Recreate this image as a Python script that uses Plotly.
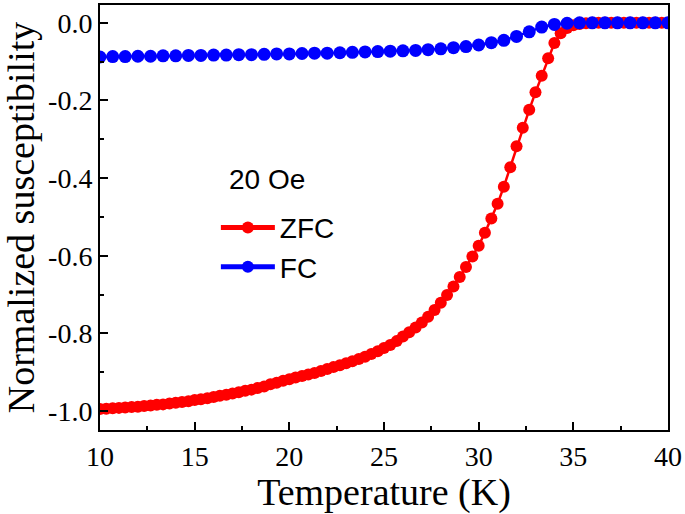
import plotly.graph_objects as go

zfc_temp = [10.00, 10.33, 10.67, 11.00, 11.33, 11.67, 12.00, 12.33, 12.67, 13.00,
            13.33, 13.67, 14.00, 14.33, 14.67, 15.00, 15.33, 15.67, 16.00, 16.33,
            16.67, 17.00, 17.33, 17.67, 18.00, 18.33, 18.67, 19.00, 19.33, 19.67,
            20.00, 20.33, 20.67, 21.00, 21.33, 21.67, 22.00, 22.33, 22.67, 23.00,
            23.33, 23.67, 24.00, 24.33, 24.67, 25.00, 25.33, 25.67, 26.00, 26.33,
            26.67, 27.00, 27.33, 27.67, 28.00, 28.33, 28.67, 29.00, 29.33, 29.67,
            30.00, 30.33, 30.67, 31.00, 31.33, 31.67, 32.00, 32.33, 32.67, 33.00,
            33.33, 33.67, 34.00, 34.33, 34.67, 35.00, 35.33, 35.67, 36.00, 36.33,
            36.67, 37.00, 37.33, 37.67, 38.00, 38.33, 38.67, 39.00, 39.33, 39.67,
            40.00]
zfc_chi = [-0.995, -0.994, -0.993, -0.992, -0.991, -0.990, -0.989, -0.987, -0.986, -0.984,
           -0.983, -0.981, -0.979, -0.977, -0.975, -0.972, -0.970, -0.967, -0.964, -0.961,
           -0.958, -0.955, -0.952, -0.948, -0.945, -0.941, -0.937, -0.931, -0.927, -0.922,
           -0.918, -0.914, -0.910, -0.906, -0.902, -0.897, -0.892, -0.887, -0.882, -0.877,
           -0.872, -0.866, -0.860, -0.853, -0.846, -0.838, -0.830, -0.820, -0.808, -0.797,
           -0.785, -0.772, -0.757, -0.740, -0.721, -0.701, -0.679, -0.655, -0.629, -0.602,
           -0.574, -0.541, -0.504, -0.466, -0.422, -0.372, -0.318, -0.270, -0.224, -0.179,
           -0.136, -0.091, -0.052, -0.027, -0.013, -0.006, -0.003, -0.001, 0.000, 0.000,
           0.000, 0.000, 0.000, 0.000, 0.000, 0.000, 0.000, 0.000, 0.000, 0.000,
           0.000]

fc_temp = [10.00, 10.67, 11.33, 12.00, 12.67, 13.33, 14.00, 14.67, 15.33, 16.00,
           16.67, 17.33, 18.00, 18.67, 19.33, 20.00, 20.67, 21.33, 22.00, 22.67,
           23.33, 24.00, 24.67, 25.33, 26.00, 26.67, 27.33, 28.00, 28.67, 29.33,
           30.00, 30.67, 31.33, 32.00, 32.67, 33.33, 34.00, 34.67, 35.33, 36.00,
           36.67, 37.33, 38.00, 38.67, 39.33, 40.00]
fc_chi = [-0.088, -0.087, -0.087, -0.086, -0.086, -0.085, -0.085, -0.084, -0.084, -0.083,
          -0.083, -0.082, -0.082, -0.081, -0.080, -0.080, -0.079, -0.078, -0.078, -0.077,
          -0.076, -0.075, -0.074, -0.073, -0.072, -0.071, -0.069, -0.067, -0.064, -0.061,
          -0.057, -0.051, -0.045, -0.035, -0.023, -0.011, -0.004, -0.001, 0.000, 0.000,
          0.000, 0.000, 0.000, 0.000, 0.000, 0.000]

x_ticks = [10, 15, 20, 25, 30, 35, 40]
x_tick_labels = ["10", "15", "20", "25", "30", "35", "40"]
y_ticks = [-1.0, -0.8, -0.6, -0.4, -0.2, 0.0]
y_tick_labels = ["-1.0", "-0.8", "-0.6", "-0.4", "-0.2", "0.0"]

fig = go.Figure()
fig.add_trace(go.Scatter(
    x=zfc_temp, y=zfc_chi, mode="lines+markers", name="ZFC",
    line=dict(color="#ff0000", width=2.5),
    marker=dict(color="#ff0000", size=12, symbol="circle"),
))
fig.add_trace(go.Scatter(
    x=fc_temp, y=fc_chi, mode="lines+markers", name="FC",
    line=dict(color="#0000ff", width=2.5),
    marker=dict(color="#0000ff", size=13, symbol="circle"),
))

serif = "Liberation Serif, Times New Roman, serif"
sans = "Liberation Sans, Arial, sans-serif"

fig.update_layout(
    width=685, height=514,
    margin=dict(l=100, r=15, t=3, b=84),
    paper_bgcolor="white", plot_bgcolor="white",
    showlegend=True,
    legend=dict(
        x=0.204, y=0.43, xanchor="left", yanchor="middle",
        bgcolor="rgba(0,0,0,0)", borderwidth=0,
        font=dict(family=sans, size=28, color="black"),
        itemsizing="constant", itemwidth=54, tracegroupgap=0,
    ),
    annotations=[dict(
        text="20 Oe", x=0.223, y=0.59, xref="paper", yref="paper",
        xanchor="left", yanchor="middle", showarrow=False,
        font=dict(family=sans, size=28, color="black"),
    )],
)

fig.update_xaxes(
    range=[10, 40], tickvals=x_ticks, ticktext=x_tick_labels,
    showline=True, linecolor="black", linewidth=2, mirror=True,
    ticks="inside", ticklen=8, tickwidth=1.5, tickcolor="black",
    minor=dict(ticks="inside", ticklen=4, tickwidth=1.5, tickcolor="black", dtick=2.5),
    showgrid=False, zeroline=False,
    tickfont=dict(family=serif, size=28, color="black"),
    title=dict(text="Temperature (K)", font=dict(family=serif, size=38, color="black"), standoff=6),
)
fig.update_yaxes(
    range=[-1.049, 0.046], tickvals=y_ticks, ticktext=y_tick_labels,
    showline=True, linecolor="black", linewidth=2, mirror=True,
    ticks="inside", ticklen=8, tickwidth=1.5, tickcolor="black",
    minor=dict(ticks="inside", ticklen=4, tickwidth=1.5, tickcolor="black", dtick=0.1),
    showgrid=False, zeroline=False,
    tickfont=dict(family=serif, size=28, color="black"),
    title=dict(text="Normalized susceptibility", font=dict(family=serif, size=38, color="black"), standoff=4),
)

fig.write_html("out.html", config={"displayModeBar": False},
               post_script="document.body.style.margin='0';document.body.style.padding='0';")
